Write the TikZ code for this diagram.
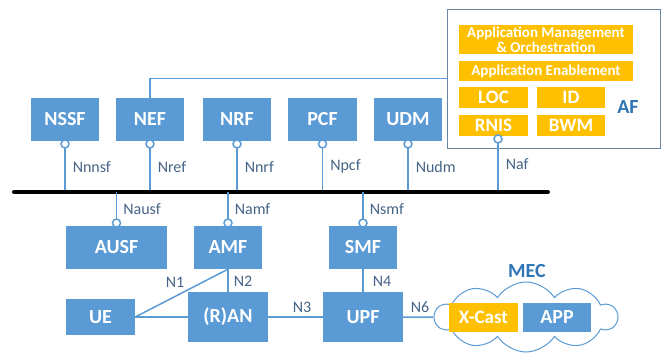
\documentclass[tikz,border=0pt]{standalone}
\usepackage{fontspec}
\setmainfont{Carlito}
\usetikzlibrary{shapes.symbols}
\begin{document}
\begin{tikzpicture}[x=1pt, y=-1pt, font=\large,
		nf/.style={fill=nfblue, text=white, inner sep=0pt, font=\fontsize{20}{20}\selectfont\bfseries},
		mecbox/.style={fill=mecorange, text=white, inner sep=0pt, align=center, font=\fontsize{15}{15}\selectfont\bfseries},
		link/.style={draw=nfblue, line width=1.5pt},
		sock/.style={circle, draw=nfblue, fill=white, line width=1.5pt, inner sep=0pt, minimum size=8pt},
		ifname/.style={text=labgray, inner sep=0pt, font=\fontsize{16}{16}\selectfont},
		title/.style={text=titleblue, inner sep=0pt, font=\fontsize{20}{20}\selectfont\bfseries}]
			\definecolor{nfblue}{RGB}{91, 155, 213}
			\definecolor{mecorange}{RGB}{255, 192, 0}
			\definecolor{labgray}{RGB}{70, 100, 135}
			\definecolor{titleblue}{RGB}{46, 117, 182}
			\definecolor{afframe}{RGB}{105, 135, 165}
			\useasboundingbox (0,0) rectangle (665,356);
			\node[draw=afframe, line width=1pt, minimum width=213pt, minimum height=139pt] (af) at (553.5,78.5) {};
			\node[mecbox, minimum width=174pt, minimum height=29pt] (amo) at (546,39.5) {Application Management\\\& Orchestration};
			\node[mecbox, minimum width=174pt, minimum height=20pt] (ae) at (546,71) {Application Enablement};
			\node[mecbox, minimum width=69pt, minimum height=21pt, font=\fontsize{19}{19}\selectfont\bfseries] (loc) at (493.5,97.5) {LOC};
			\node[mecbox, minimum width=68pt, minimum height=21pt, font=\fontsize{19}{19}\selectfont\bfseries] (id) at (571,97.5) {ID};
			\node[mecbox, minimum width=69pt, minimum height=21pt, font=\fontsize{19}{19}\selectfont\bfseries] (rnis) at (493.5,125.5) {RNIS};
			\node[mecbox, minimum width=68pt, minimum height=21pt, font=\fontsize{19}{19}\selectfont\bfseries] (bwm) at (571,125.5) {BWM};
			\node[title] (aflabel) at (628,107) {AF};
			\node[nf, minimum width=68pt, minimum height=43pt] (nssf) at (65,119.5) {NSSF};
			\node[nf, minimum width=68pt, minimum height=43pt] (nef) at (150,119.5) {NEF};
			\node[nf, minimum width=68pt, minimum height=43pt] (nrf) at (237,119.5) {NRF};
			\node[nf, minimum width=69pt, minimum height=43pt] (pcf) at (322.5,119.5) {PCF};
			\node[nf, minimum width=68pt, minimum height=43pt] (udm) at (408,119.5) {UDM};
			\draw[link] (nef.north) |- (af.west);
			\coordinate (busl) at (14,192);
			\coordinate (busr) at (548,192);
			\coordinate (naf) at ([xshift=4.5pt]rnis.south);
			\foreach \nf/\ifn in {nssf/Nnnsf, nef/Nref, nrf/Nnrf, pcf/Npcf, udm/Nudm, naf/Naf} {
				\draw[link] (\nf.south) -- (\nf.south |- busl) node[ifname, midway, anchor=west, xshift=7pt] {\ifn};
				\node[sock, below=-2pt] at (\nf.south) {};
			}
			\draw[line width=4pt, line cap=round] (busl) -- (busr);
			\node[nf, minimum width=101pt, minimum height=43pt] (ausf) at (116.5,247.5) {AUSF};
			\node[nf, minimum width=68pt, minimum height=43pt] (amf) at (228,247.5) {AMF};
			\node[nf, minimum width=68pt, minimum height=43pt] (smf) at (363,247.5) {SMF};
			\foreach \nf/\ifn in {ausf/Nausf, amf/Namf, smf/Nsmf} {
				\draw[link] (\nf.north) -- (\nf.north |- busl) node[ifname, midway, anchor=west, xshift=6pt] {\ifn};
				\node[sock, above=-2pt] at (\nf.north) {};
			}
			\node[nf, minimum width=69pt, minimum height=36pt] (ue) at (100.5,317) {UE};
			\node[nf, minimum width=80pt, minimum height=50pt] (ran) at (228,317) {(R)AN};
			\node[nf, minimum width=80pt, minimum height=50pt] (upf) at (363,317) {UPF};
			\node[cloud, draw=nfblue, line width=1pt, cloud puffs=10, cloud puff arc=115, aspect=2.6, minimum width=182pt, minimum height=70pt, inner sep=0pt] (mec) at (526,317) {};
			\node[title] (meclabel) at (527,271) {MEC};
			\node[mecbox, minimum width=69pt, minimum height=29pt, font=\fontsize{19}{19}\selectfont\bfseries] (xcast) at (483.5,317.5) {X-Cast};
			\node[nf, minimum width=68pt, minimum height=29pt] (app) at (557,317.5) {APP};
			\draw[link] (ue.east) -- (amf.south);
			\draw[link] (ue.east) -- (ran.west);
			\draw[link] (amf.south) -- (ran.north);
			\draw[link] (ran.east) -- (upf.west);
			\draw[link] (smf.south) -- (upf.north);
			\draw[link] (upf.east) -- (mec.west);
			\node[ifname] (n1) at (175,282) {N1};
			\node[ifname] (n2) at (243,281) {N2};
			\node[ifname] (n3) at (302,307) {N3};
			\node[ifname] (n4) at (382,281) {N4};
			\node[ifname] (n6) at (420,307) {N6};
		\end{tikzpicture}
\end{document}
